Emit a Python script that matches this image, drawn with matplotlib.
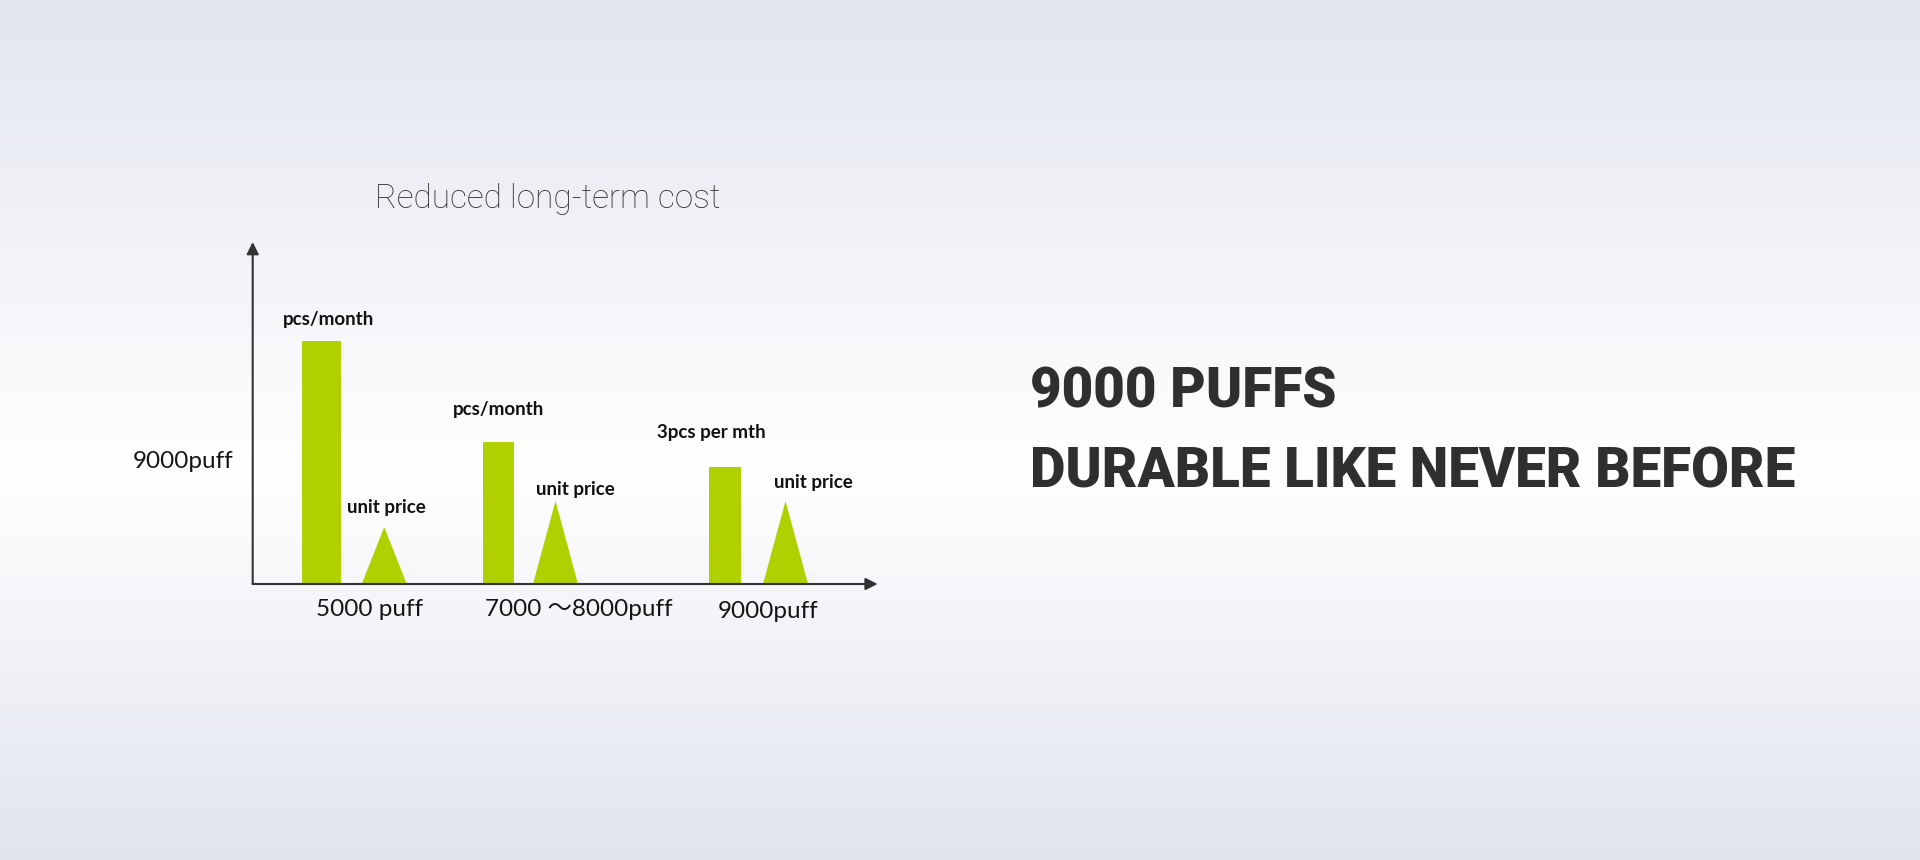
import numpy as np
import matplotlib.pyplot as plt
from matplotlib.colors import LinearSegmentedColormap
from matplotlib.patches import Polygon

# data (heights in axis pixels)
categories = ["5000 puff", "7000 ～8000puff", "9000puff"]
pcs_labels = ["pcs/month", "pcs/month", "3pcs per mth"]
pcs_per_month = [243, 142, 117]
unit_price = [57, 83, 83]
price_label = "unit price"
y_label = "9000puff"
title = "Reduced long-term cost"
headline = ["9000 PUFFS", "DURABLE LIKE NEVER BEFORE"]

W, H = 1920, 860
GREEN = "#b1d000"
FONTS = ["Lato", "Noto Sans CJK SC", "DejaVu Sans"]

fig = plt.figure(figsize=(W / 100, H / 100), dpi=100)

# background: soft vertical gradient
bg = fig.add_axes([0, 0, 1, 1])
bg.axis("off")
cmap = LinearSegmentedColormap.from_list(
    "bg", [(0, "#e3e6ef"), (0.55, "#ffffff"), (1, "#e1e4ee")])
bg.imshow(np.linspace(0, 1, 256).reshape(-1, 1), aspect="auto", cmap=cmap,
          extent=[0, 1, 0, 1])

# chart axes, origin at pixel (x0, y0)
x0, y0 = 252.7, 584
xlen, ylen = 625, 342
ax = fig.add_axes([x0 / W, 1 - y0 / H, xlen / W, ylen / H])
ax.set_xlim(0, xlen)
ax.set_ylim(0, ylen)
ax.axis("off")

bar_x = [68.3, 245.3, 472.3]
bar_w = [39, 31, 32]
tri_x = [131.5, 302.8, 532.8]
tri_hw = 22.5

ax.bar(bar_x, pcs_per_month, width=bar_w, color=GREEN, zorder=2)
for xc, h in zip(tri_x, unit_price):
    ax.add_patch(Polygon([(xc - tri_hw, 0), (xc + tri_hw, 0), (xc, h)],
                         closed=True, color=GREEN, lw=0, zorder=2))

arrow = dict(arrowstyle="-|>", color="#333333", lw=1.5, mutation_scale=18,
             shrinkA=0, shrinkB=0)
ax.annotate("", xy=(xlen, 0), xytext=(0, 0), arrowprops=arrow,
            annotation_clip=False, zorder=3)
ax.annotate("", xy=(0, ylen), xytext=(0, 0), arrowprops=arrow,
            annotation_clip=False, zorder=3)


def ptext(px, py, s, **kw):
    fig.text(px / W, 1 - py / H, s, ha=kw.pop("ha", "center"),
             va=kw.pop("va", "center"), family=kw.pop("family", FONTS), **kw)


# labels above bars / triangles
for (px, py), s in zip([(328, 319), (499, 409), (711, 432)], pcs_labels):
    ptext(px, py, s, fontsize=13.5, weight="bold", color="#111111")
for px, py in [(386, 508), (575, 490), (813, 482)]:
    ptext(px, py, price_label, fontsize=13.5, weight="bold", color="#111111")

# category labels under the x axis
for (px, py), s in zip([(370, 609), (579, 609), (768, 612)], categories):
    ptext(px, py, s, fontsize=17.5, color="#151515")

ptext(183, 462, y_label, fontsize=17.5, color="#151515")
ptext(548, 199, title, fontsize=24, weight="light", color="#333333",
      family=["Roboto", "DejaVu Sans"])

ptext(1030, 392, headline[0], ha="left", fontsize=39.4, weight="black",
      color="#2f2f30", family=["Roboto", "DejaVu Sans"])
ptext(1030, 472, headline[1], ha="left", fontsize=39.4, weight="black",
      color="#2f2f30", family=["Roboto", "DejaVu Sans"])

plt.savefig("out.png", dpi=100)
